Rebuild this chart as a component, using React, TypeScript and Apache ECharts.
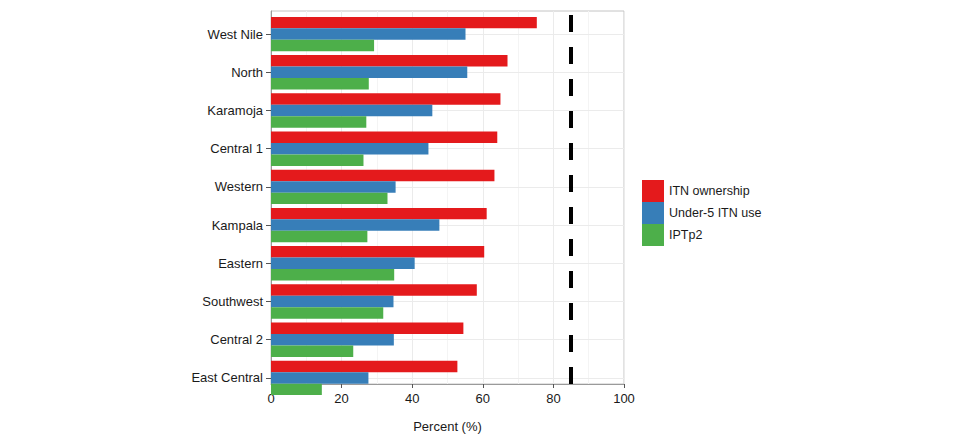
import React, { useEffect, useRef } from "react";
import * as echarts from "echarts";

const regions = ["West Nile", "North", "Karamoja", "Central 1", "Western", "Kampala", "Eastern", "Southwest", "Central 2", "East Central"];
const itnOwnership = [75.3, 67.0, 65.0, 64.1, 63.3, 61.1, 60.4, 58.3, 54.5, 52.8];
const under5Use = [55.1, 55.6, 45.7, 44.6, 35.3, 47.7, 40.7, 34.7, 34.8, 27.6];
const iptp2 = [29.2, 27.7, 27.0, 26.2, 33.0, 27.3, 34.9, 31.8, 23.3, 14.4];
const seriesNames = ["ITN ownership", "Under-5 ITN use", "IPTp2"];
const targetLine = 85;
const xTicks = [0, 20, 40, 60, 80, 100];

const FONT = "'Liberation Sans', Arial, sans-serif";

export default function App() {
  const ref = useRef<HTMLDivElement>(null);
  useEffect(() => {
    if (!ref.current) return;
    const chart = echarts.init(ref.current, null, { renderer: "svg" });
    const colors = ["#E41A1C", "#377EB8", "#4DAF4A"];
    const values = [itnOwnership, under5Use, iptp2];
    chart.setOption({
      animation: false,
      backgroundColor: "#ffffff",
      textStyle: { fontFamily: FONT },
      legend: {
        data: seriesNames,
        orient: "vertical",
        left: 634,
        top: 172,
        padding: 0,
        itemWidth: 22,
        itemHeight: 22,
        itemGap: 0,
        icon: "rect",
        textStyle: { fontSize: 12.5, color: "#1a1a1a", fontFamily: FONT },
      },
      grid: [
        { left: 263, top: 3, width: 353, height: 389, show: true, borderColor: "#c4c4c4", borderWidth: 1, backgroundColor: "transparent", containLabel: false },
        { left: 263, top: 7, width: 353, height: 382, containLabel: false },
      ],
      xAxis: [
        {
          gridIndex: 0,
          type: "value",
          min: xTicks[0],
          max: xTicks[xTicks.length - 1],
          interval: 20,
          axisLine: { show: true, lineStyle: { color: "#9a9a9a", width: 1 } },
          axisTick: { show: true, length: 4, lineStyle: { color: "#555" } },
          axisLabel: { fontSize: 13, color: "#1a1a1a", margin: 8, fontFamily: FONT },
          splitLine: { show: true, lineStyle: { color: "#ebebeb", width: 1 } },
          minorTick: { show: false, splitNumber: 2 },
          minorSplitLine: { show: true, lineStyle: { color: "#f4f4f4", width: 1 } },
          name: "Percent (%)",
          nameLocation: "middle",
          nameGap: 36,
          nameTextStyle: { fontSize: 13, color: "#1a1a1a", fontFamily: FONT },
        },
        {
          gridIndex: 1,
          type: "value",
          min: 0,
          max: 100,
          show: false,
        },
      ],
      yAxis: [
        {
          gridIndex: 0,
          type: "value",
          min: 0,
          max: 1,
          axisLine: { show: true, lineStyle: { color: "#9a9a9a", width: 1 } },
          axisTick: { show: false },
          axisLabel: { show: false },
          splitLine: { show: false },
        },
        {
          gridIndex: 1,
          type: "category",
          data: regions,
          inverse: true,
          axisLine: { show: false },
          axisTick: { show: true, alignWithLabel: true, length: 5, lineStyle: { color: "#555" } },
          axisLabel: { fontSize: 13, color: "#1a1a1a", margin: 8, fontFamily: FONT },
          splitLine: { show: false },
        },
      ],
      series: [
        {
          type: "line",
          xAxisIndex: 1,
          yAxisIndex: 1,
          data: [],
          z: 1,
          silent: true,
          markLine: {
            silent: true,
            z: 1,
            symbol: ["none", "none"],
            label: { show: false },
            lineStyle: { color: "#ebebeb", width: 1, type: "solid" },
            data: regions.map((r) => ({ yAxis: r })),
          },
        },
        ...seriesNames.map((name, i) => ({
          name,
          type: "bar",
          xAxisIndex: 1,
          yAxisIndex: 1,
          data: values[i],
          barGap: "0%",
          barCategoryGap: "10%",
          itemStyle: { color: colors[i] },
          z: 3,
        })),
        {
          type: "line",
          xAxisIndex: 0,
          yAxisIndex: 0,
          data: [],
          z: 6,
          silent: true,
          markLine: {
            silent: true,
            z: 6,
            symbol: ["none", "none"],
            label: { show: false },
            lineStyle: { color: "#000000", width: 4, type: [17, 15], dashOffset: 0 },
            data: [{ xAxis: targetLine }],
          },
        },
      ],
    });
    return () => chart.dispose();
  }, []);
  return <div ref={ref} style={{ width: 941, height: 430 }} />;
}
